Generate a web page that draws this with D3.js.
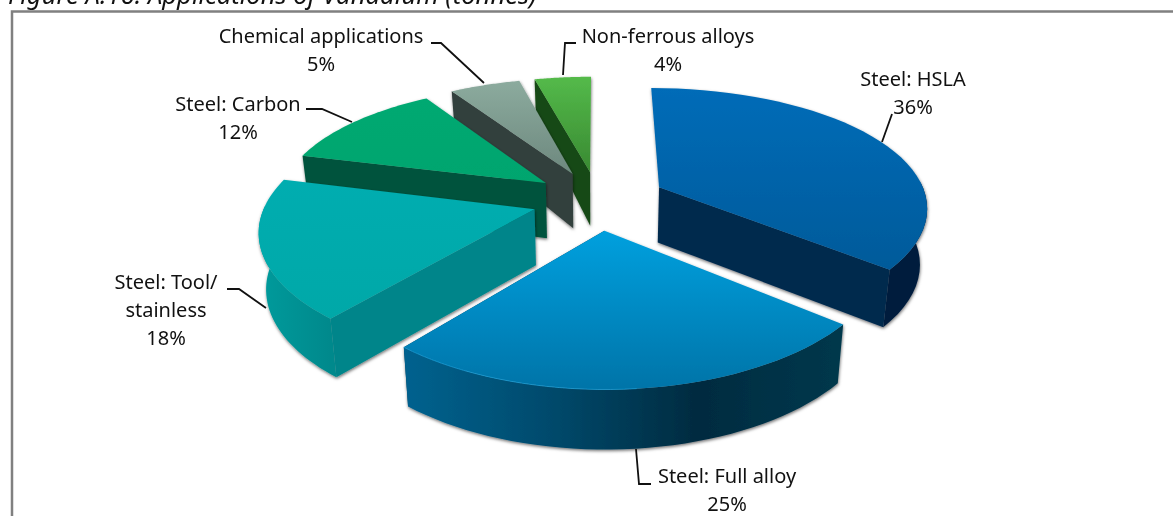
<!DOCTYPE html>
<html>
<head>
<meta charset="utf-8">
<script src="https://cdn.jsdelivr.net/npm/d3@7"></script>
<style>
html,body{margin:0;padding:0;background:#fff;overflow:hidden}
svg{display:block;filter:blur(.35px)}
text{font-family:"Noto Sans",sans-serif;fill:#111}
</style>
</head>
<body>
<div id="chart"></div>
<script>
// Data
const categories = ["Steel: HSLA","Steel: Full alloy","Steel: Tool/ stainless","Steel: Carbon","Chemical applications","Non-ferrous alloys"];
const shares = [36,25,18,12,5,4];
const explodes = [0.256,0.246,0.246,0.246,0.246,0.246];

// Colours per slice: top gradient, radial wall, outer wall stops
const topFrom = ["#006cb8","#00a0de","#00adb0","#00a972","#8cab9e","#54ba4a"];
const topTo = ["#005a9a","#0074a8","#00a8a8","#00a56e","#6d887e","#398a32"];
const wallCols = ["#002a4e","#003a58","#00858a","#00533c","#333f3d","#174a14"];
const outerStops = [
  ["#001e3e","#001e3e"],
  ["#00628f","#004a6c","#002b40","#00384c"],
  ["#009b9c","#00898c"],
  ["#00533c","#00533c"],
  ["#333f3d","#333f3d"],
  ["#174a14","#174a14"]
];

// Label layout: lines, centre x, first baseline
const labelLines = [["Steel: HSLA","36%"],["Steel: Full alloy","25%"],["Steel: Tool/","stainless","18%"],["Steel: Carbon","12%"],["Chemical applications","5%"],["Non-ferrous alloys","4%"]];
const labelX = [913,727,166,238,321,668];
const labelY = [86,483,289,111,43,43];
const leaders = [
  [[882,142],[892,114]],
  [[636,449],[639,484],[651,484]],
  [[266,308],[239,289],[227,289]],
  [[352,122],[322,109],[306,109]],
  [[484,83],[441,43],[431,43]],
  [[563,75],[565,43],[576,43]]
];

const W = 1173, H = 516;
const svg = d3.select("#chart").append("svg").attr("width",W).attr("height",H);
const defs = svg.append("defs");

const shadow = defs.append("filter").attr("id","shadow").attr("x","-10%").attr("y","-10%").attr("width","120%").attr("height","125%");
shadow.append("feDropShadow").attr("dx",0.5).attr("dy",1.5).attr("stdDeviation",1.5).attr("flood-color","#000").attr("flood-opacity",0.55);

// Perspective ground plane, radius = 1
const cx = 598, cy = 200, sx = 268, sy = 120, persp = 0.17, perspX = 0.15;
const wallH = d3.scaleLinear().domain([0.79,1.03,1.2]).range([60,55,40]);
function project(u,v,drop){
  const w = 1 + persp*v, wx = 1 + perspX*v;
  const y = cy - sy*v/w, x = sx*u/wx;
  // the base sits a little narrower than the top face
  return drop ? [cx + x*0.978, y + wallH(w)] : [cx + x, y];
}

const pie = d3.pie().sort(null).value(d=>d);
const arcs = pie(shares);
const line = d3.line().curve(d3.curveLinear);

// painter order: far slices first
const order = [5,4,3,2,0,1];

svg.append("rect").attr("x",12).attr("y",11.5).attr("width",W).attr("height",H).attr("fill","#fff").attr("stroke","#808080").attr("stroke-width",2.5);

svg.append("text").attr("x",8).attr("y",4).attr("font-size",25.6).attr("font-style","italic").attr("fill","#222")
  .text("Figure A.16: Applications of Vanadium (tonnes)");

const gPie = svg.append("g");
order.forEach(i=>{
  const a = arcs[i], mid = (a.startAngle+a.endAngle)/2;
  const ou = explodes[i]*Math.sin(mid), ov = explodes[i]*Math.cos(mid);
  const angles = d3.range(41).map(k=>a.startAngle+(a.endAngle-a.startAngle)*k/40);
  const rimAt = (t,drop) => project(ou+Math.sin(t),ov+Math.cos(t),drop);
  const rim = drop => angles.map(t=>rimAt(t,drop));
  const apex = drop => project(ou,ov,drop);
  const g = gPie.append("g").attr("filter","url(#shadow)");

  // gradients
  const rimTop = rim(false), ys = rimTop.map(d=>d[1]).concat(apex(false)[1]), xs = rimTop.map(d=>d[0]);
  const gt = defs.append("linearGradient").attr("id","top"+i).attr("gradientUnits","userSpaceOnUse")
    .attr("x1",0).attr("x2",0).attr("y1",d3.min(ys)).attr("y2",d3.max(ys));
  gt.append("stop").attr("offset",0).attr("stop-color",topFrom[i]);
  gt.append("stop").attr("offset",1).attr("stop-color",topTo[i]);
  const go = defs.append("linearGradient").attr("id","outer"+i).attr("gradientUnits","userSpaceOnUse")
    .attr("y1",0).attr("y2",0).attr("x1",d3.min(xs)).attr("x2",d3.max(xs));
  outerStops[i].forEach((c,k,all)=>go.append("stop").attr("offset",k/(all.length-1)).attr("stop-color",c));

  // radial wall facing the viewer
  const side = mid < Math.PI ? a.endAngle : a.startAngle;
  g.append("path").attr("fill",wallCols[i])
    .attr("d",line([apex(false),rimAt(side,false),rimAt(side,true),apex(true)])+"Z");
  // outer wall, front half of the rim only
  const front = angles.filter(t=>Math.cos(t) < 0.05);
  if(front.length){
    const topEdge = front.map(t=>rimAt(t,false)), botEdge = front.map(t=>rimAt(t,true));
    g.append("path").attr("fill",`url(#outer${i})`)
      .attr("d",line(topEdge.concat(botEdge.reverse()))+"Z");
  }
  // top
  g.append("path").attr("fill",`url(#top${i})`)
    .attr("d",line([apex(false)].concat(rim(false)))+"Z");
  // thin highlight on the front rim of the full alloy slice
  if(i===1) g.append("path").attr("fill","none").attr("stroke","#1c9fd8").attr("stroke-width",1).attr("stroke-opacity",.7)
    .attr("d",line(rim(false).slice(20)));
});

// leader lines
const lineG = svg.append("g").attr("fill","none").attr("stroke","#111").attr("stroke-width",1.8);
leaders.forEach(p=>lineG.append("path").attr("d",line(p)));

// labels
const labG = svg.append("g").attr("font-size",20).attr("text-anchor","middle");
labelLines.forEach((ls,i)=>{
  ls.forEach((t,k)=>{
    labG.append("text").attr("x",labelX[i]).attr("y",labelY[i]+k*28.2).text(t);
  });
});
</script>
</body>
</html>
